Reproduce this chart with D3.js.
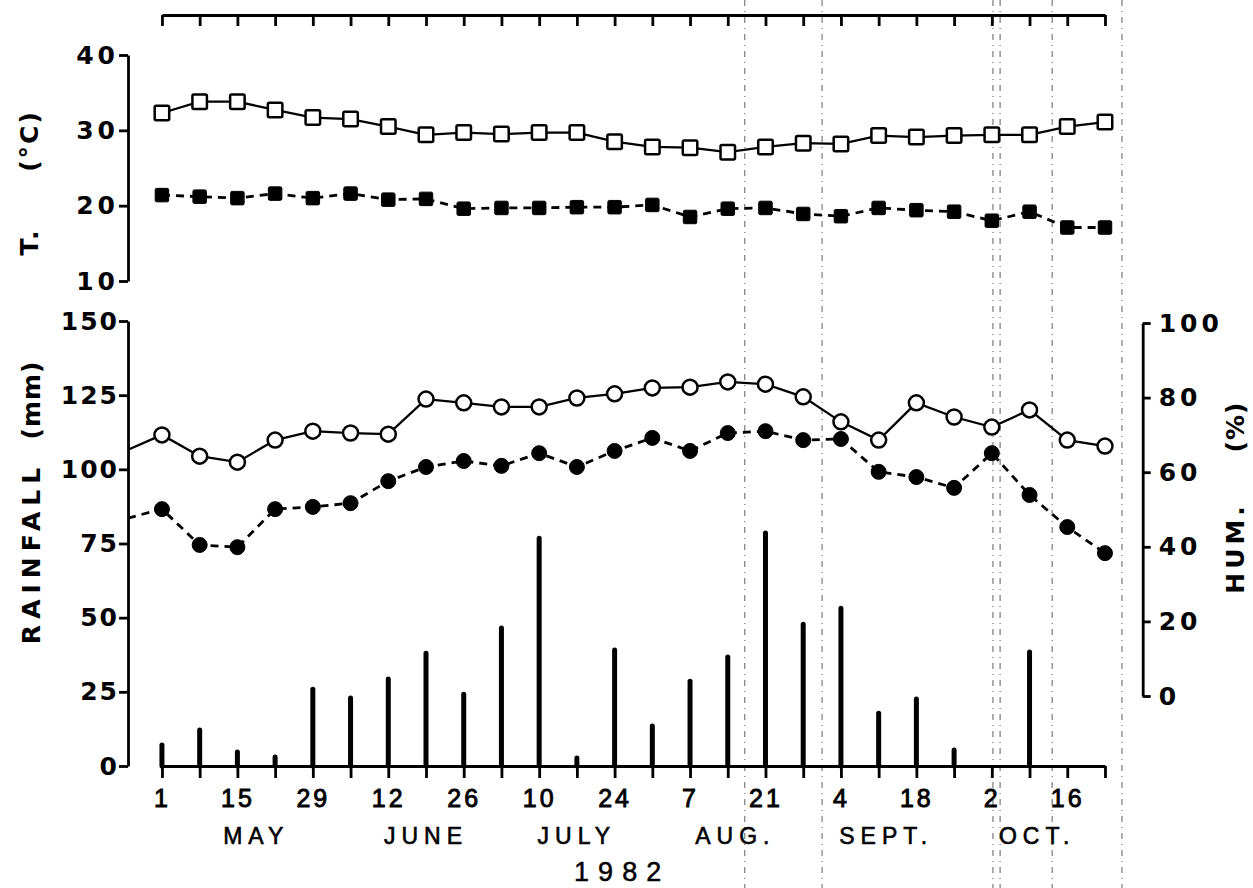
<!DOCTYPE html>
<html>
<head>
<meta charset="utf-8">
<script src="https://cdn.jsdelivr.net/npm/d3@7"></script>
<style>
  body { margin: 0; background: #fff; }
  svg { display: block; }
</style>
</head>
<body>
<div id="chart"></div>
<script>
// Weekly observations, 1 May - 23 Oct 1982
var weekDays = [1, 8, 15, 22, 29, 5, 12, 19, 26, 3, 10, 17, 24, 31, 7, 14, 21, 28, 4, 11, 18, 25, 2, 9, 16, 23];
var months = ['MAY', 'JUNE', 'JULY', 'AUG.', 'SEPT.', 'OCT.'];
var year = '1982';

// Temperature (deg C)
var tempMax = [32.3, 33.8, 33.8, 32.7, 31.7, 31.5, 30.5, 29.4, 29.7, 29.5, 29.7, 29.7, 28.5,
               27.8, 27.7, 27.1, 27.8, 28.3, 28.2, 29.3, 29.1, 29.3, 29.4, 29.4, 30.5, 31.1];
var tempMin = [21.4, 21.2, 21.0, 21.6, 21.0, 21.6, 20.8, 20.9, 19.6, 19.7, 19.7, 19.8, 19.8,
               20.1, 18.5, 19.6, 19.7, 18.9, 18.6, 19.7, 19.4, 19.2, 18.0, 19.2, 17.1, 17.1];

// Relative humidity (%) - the lines start at the axis with the previous week's value
var humMaxPrev = 66.0;
var humMinPrev = 47.7;
var humMax = [70.0, 64.3, 62.7, 68.6, 71.0, 70.5, 70.2, 79.6, 78.6, 77.5, 77.5, 79.9, 81.0,
              82.6, 82.8, 84.2, 83.6, 80.2, 73.5, 68.6, 78.6, 74.8, 72.1, 76.7, 68.6, 67.0];
var humMin = [50.1, 40.5, 39.9, 50.1, 50.7, 51.7, 57.6, 61.4, 63.0, 61.7, 65.1, 61.4, 65.7,
              69.2, 65.7, 70.5, 71.0, 68.6, 68.9, 60.1, 58.7, 55.8, 65.1, 53.9, 45.3, 38.3];

// Weekly rainfall (mm)
var rainfall = [7.1, 12.1, 4.7, 3.0, 25.9, 22.9, 29.3, 38.0, 24.2, 46.5, 76.8, 2.7, 39.1,
                13.5, 28.6, 36.7, 78.5, 47.8, 53.2, 17.8, 22.6, 5.4, 0, 38.4, 0, 0];

var tempTicks = [10, 20, 30, 40];
var rainTicks = [0, 25, 50, 75, 100, 125, 150];
var humTicks = [0, 20, 40, 60, 80, 100];

// Layout
var width = 1253, height = 888;
var prevWeek = -0.9, lastWeek = 25;
var monthAt = [2.5, 7, 11, 15.2, 19.2, 23.2]; // label centres in week units
var scanLines = [15.45, 17.5, 22.03, 22.22, 23.6, 25.45]; // fold marks of the scanned page

var svg = d3.select('#chart').append('svg')
    .attr('width', width).attr('height', height);

var x = d3.scaleLinear().domain([prevWeek, 26]).range([128, 1142.7]);
var xWeek = d3.scaleLinear().domain([0, lastWeek]).range([x(0), x(lastWeek)]);
var yTemp = d3.scaleLinear().domain([10, 40]).range([281, 55]);
var yRain = d3.scaleLinear().domain([0, 150]).range([766, 321]);
var yHum = d3.scaleLinear().domain([0, 100]).range([696, 323]);

var weeks = d3.range(weekDays.length);

// Fold lines from the scan
svg.append('g').selectAll('line')
    .data(scanLines)
    .enter().append('line')
    .attr('x1', function(d) { return x(d); }).attr('x2', function(d) { return x(d); })
    .attr('y1', 0).attr('y2', height)
    .style('stroke', '#222')
    .style('stroke-width', 1.2)
    .style('stroke-dasharray', '6,5,1,5')
    .style('opacity', 0.6);

function styleAxis(g, family, size, weight, spacing) {
    g.selectAll('path, line').style('stroke', '#000').style('stroke-width', 2.8);
    g.selectAll('text')
        .style('font-family', family)
        .style('font-size', size + 'px')
        .style('font-weight', weight)
        .style('letter-spacing', spacing + 'px')
        .style('fill', '#000');
}
var boldFont = 'DejaVu Sans, Liberation Sans, sans-serif';
var plainFont = 'Liberation Sans, Arial, sans-serif';

// Top frame axis
svg.append('g')
    .attr('transform', 'translate(0,15)')
    .call(d3.axisBottom(xWeek).tickValues(weeks).tickSize(11).tickSizeOuter(0).tickFormat(''))
    .call(function(g) { styleAxis(g, plainFont, 10, 'normal', 0); });

// Temperature axis
svg.append('g')
    .attr('transform', 'translate(' + x(prevWeek) + ',0)')
    .call(d3.axisLeft(yTemp).tickValues(tempTicks).tickSize(9).tickSizeOuter(0).tickPadding(0))
    .call(function(g) { styleAxis(g, boldFont, 25, 'bold', 4); });

// Rainfall axis
svg.append('g')
    .attr('transform', 'translate(' + x(prevWeek) + ',0)')
    .call(d3.axisLeft(yRain).tickValues(rainTicks).tickSize(9).tickSizeOuter(0).tickPadding(0))
    .call(function(g) { styleAxis(g, boldFont, 25, 'bold', 2); });

// Humidity axis
svg.append('g')
    .attr('transform', 'translate(' + x(26) + ',0)')
    .call(d3.axisRight(yHum).tickValues(humTicks).tickSize(8).tickSizeOuter(0).tickPadding(8))
    .call(function(g) { styleAxis(g, boldFont, 25, 'bold', 4); });

// Date axis
svg.append('g')
    .attr('transform', 'translate(0,' + yRain(0) + ')')
    .call(d3.axisBottom(xWeek).tickValues(weeks).tickSize(12).tickSizeOuter(0).tickPadding(11)
        .tickFormat(function(d) { return d % 2 === 0 ? weekDays[d] : ''; }))
    .call(function(g) {
        styleAxis(g, plainFont, 25, 'normal', 3);
        g.selectAll('text').style('stroke', '#000').style('stroke-width', 0.9);
    });

// Month and year labels
svg.append('g').selectAll('text')
    .data(months)
    .enter().append('text')
    .attr('x', function(d, i) { return xWeek(monthAt[i]); })
    .attr('y', 844)
    .attr('text-anchor', 'middle')
    .style('font-family', plainFont)
    .style('font-size', '23px')
    .style('letter-spacing', '6px')
    .style('fill', '#000')
    .style('stroke', '#000')
    .style('stroke-width', 0.6)
    .text(function(d) { return d; });

svg.append('text')
    .attr('x', xWeek(12.2)).attr('y', 881)
    .attr('text-anchor', 'middle')
    .style('font-family', plainFont)
    .style('font-size', '27px')
    .style('letter-spacing', '9px')
    .style('fill', '#000')
    .style('stroke', '#000')
    .style('stroke-width', 0.5)
    .text(year);

// Axis titles (rotated)
function vTitle(bx, cy, txt, spacing) {
    svg.append('text')
        .attr('transform', 'translate(' + bx + ',' + cy + ') rotate(-90)')
        .attr('text-anchor', 'middle')
        .style('font-family', boldFont)
        .style('font-size', '25px')
        .style('font-weight', 'bold')
        .style('letter-spacing', spacing + 'px')
        .style('fill', '#000')
        .text(txt);
}
vTitle(38, 242, 'T.', 2);
vTitle(38, 141, '(°C)', 2);
vTitle(40, 553, 'RAINFALL', 6);
vTitle(40, 400, '(mm)', 1);
vTitle(1244, 548, 'HUM.', 4);
vTitle(1244, 427, '(%)', 1);

// Rainfall bars
svg.append('g').selectAll('line')
    .data(weeks.filter(function(i) { return rainfall[i] > 0; }))
    .enter().append('line')
    .attr('x1', function(i) { return xWeek(i); }).attr('x2', function(i) { return xWeek(i); })
    .attr('y1', yRain(0)).attr('y2', function(i) { return yRain(rainfall[i]); })
    .style('stroke', '#000')
    .style('stroke-width', 5)
    .style('stroke-linecap', 'round');

// Lines
function drawLine(values, yScale, dashed, prev) {
    var pts = weeks.map(function(i) { return [x(i), yScale(values[i])]; });
    if (prev !== undefined) pts.unshift([x(prevWeek), yScale(prev)]);
    svg.append('path')
        .datum(pts)
        .attr('d', d3.line())
        .style('fill', 'none')
        .style('stroke', '#000')
        .style('stroke-width', dashed ? 2.8 : 2.3)
        .style('stroke-dasharray', dashed ? '8,6' : null);
}
drawLine(tempMax, yTemp, false);
drawLine(tempMin, yTemp, true);
drawLine(humMax, yHum, false, humMaxPrev);
drawLine(humMin, yHum, true, humMinPrev);

// Markers
function drawSquares(values, filled) {
    var s = filled ? 13.5 : 14.5;
    svg.append('g').selectAll('rect')
        .data(weeks)
        .enter().append('rect')
        .attr('x', function(i) { return x(i) - s / 2; })
        .attr('y', function(i) { return yTemp(values[i]) - s / 2; })
        .attr('width', s).attr('height', s)
        .attr('rx', 1.5)
        .style('fill', filled ? '#000' : '#fff')
        .style('stroke', '#000')
        .style('stroke-width', filled ? 1 : 2.5);
}
function drawCircles(values, filled) {
    svg.append('g').selectAll('circle')
        .data(weeks)
        .enter().append('circle')
        .attr('cx', function(i) { return x(i); })
        .attr('cy', function(i) { return yHum(values[i]); })
        .attr('r', 7.5)
        .style('fill', filled ? '#000' : '#fff')
        .style('stroke', '#000')
        .style('stroke-width', filled ? 1 : 2.5);
}
drawSquares(tempMax, false);
drawSquares(tempMin, true);
drawCircles(humMax, false);
drawCircles(humMin, true);
</script>
</body>
</html>
